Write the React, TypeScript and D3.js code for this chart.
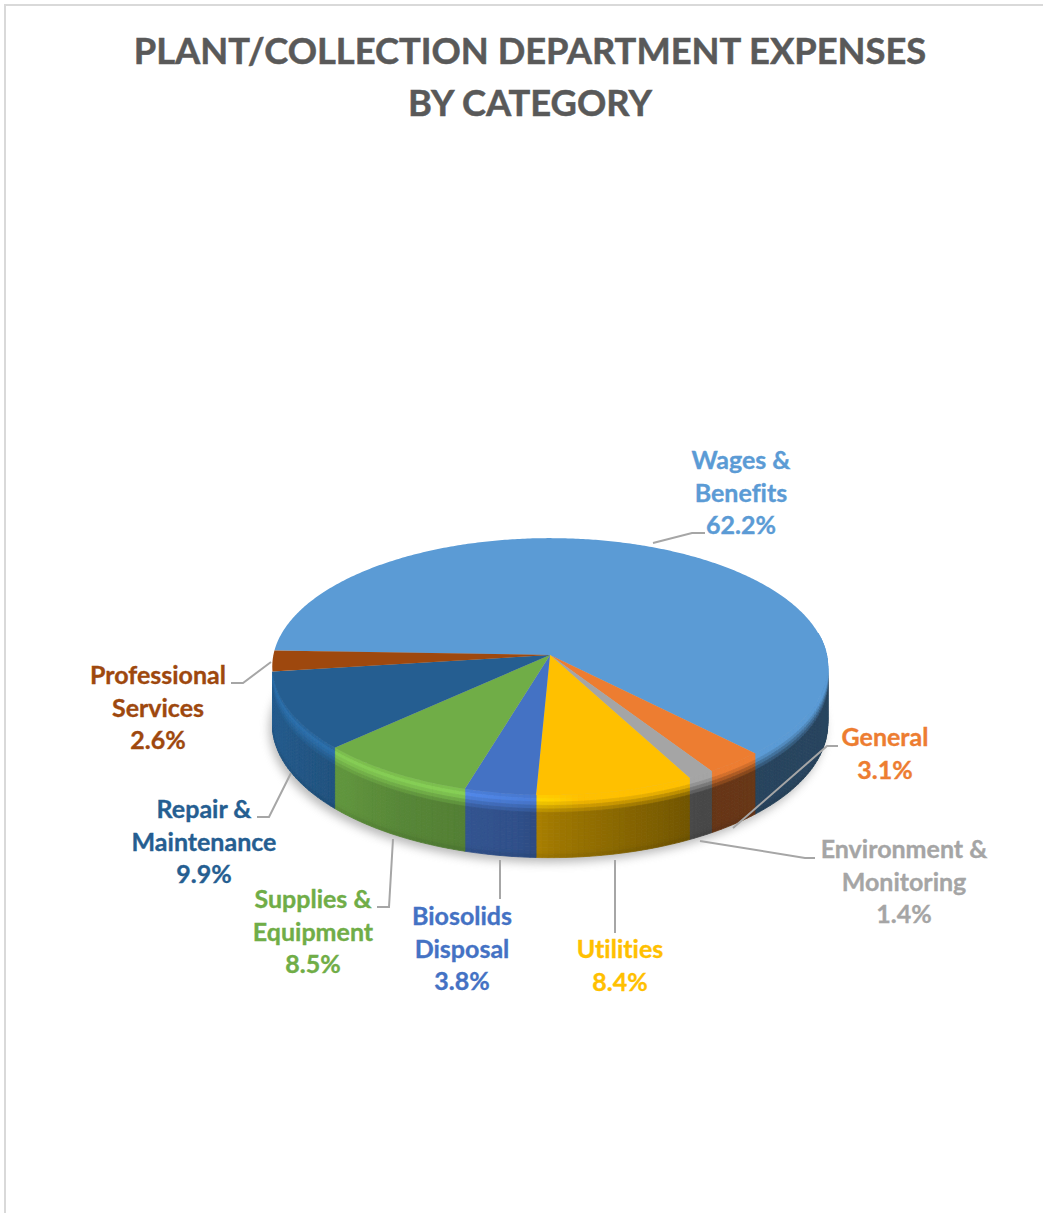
import React from "react";
import * as d3 from "d3";

// Expense shares in percent, in clockwise drawing order
const categories = [
  "Wages & Benefits",
  "General",
  "Environment & Monitoring",
  "Utilities",
  "Biosolids Disposal",
  "Supplies & Equipment",
  "Repair & Maintenance",
  "Professional Services",
];
const shares = [62.2, 3.1, 1.4, 8.4, 3.8, 8.5, 9.9, 2.6];
const sliceColors = ["#5b9bd5", "#ed7d31", "#a5a5a5", "#ffc000", "#4472c4", "#70ad47", "#255e91", "#9e480e"];
const titleLines = ["PLANT/COLLECTION DEPARTMENT EXPENSES", "BY CATEGORY"];

// Label layout: wrapped name lines, centre x and first baseline for each category
const labelLines = [
  ["Wages &", "Benefits"],
  ["General"],
  ["Environment &", "Monitoring"],
  ["Utilities"],
  ["Biosolids", "Disposal"],
  ["Supplies &", "Equipment"],
  ["Repair &", "Maintenance"],
  ["Professional", "Services"],
];
const labelX = [741, 885, 904, 620, 462, 313, 204, 158];
const labelY = [469, 746, 858, 958, 925, 908, 818, 684];
const leaderPaths = [
  [[653, 543], [692, 533], [705, 533]],
  [[733, 828], [827, 746], [838, 746]],
  [[700, 841], [805, 858], [815, 858]],
  [[615, 860], [615, 933]],
  [[500, 860], [500, 899]],
  [[393, 839], [389, 907], [377, 907]],
  [[291, 773], [269, 817], [257, 817]],
  [[271, 662], [243, 683], [231, 683]],
];

// Perspective disc: apex position, radii, foreshortening and wall depth
const cx = 550;
const cy = 655;
const radiusX = 276.6;
const radiusY = 127.4;
const tilt = 0.09;
const wallDepth = 57;
const firstAngle = (272 * Math.PI) / 180;

const project = (theta: number, depthT = 0): [number, number] => {
  const u = Math.sin(theta);
  const v = -Math.cos(theta);
  const w = 1 - tilt * v;
  return [cx + (radiusX * u) / w, cy + (radiusY * v + wallDepth * depthT) / w];
};

const arcs = d3
  .pie<number>()
  .sort(null)
  .startAngle(firstAngle)
  .endAngle(firstAngle + 2 * Math.PI)(shares);

const outline = d3.line().curve(d3.curveLinear);

const sampleAngles = (a: number, b: number, step: number) => {
  const n = Math.max(1, Math.ceil((b - a) / step));
  return d3.range(n + 1).map((i) => a + ((b - a) * i) / n);
};

const topPath = (a: number, b: number) =>
  outline([[cx, cy], ...sampleAngles(a, b, 0.01).map((t) => project(t))] as [number, number][])! + "Z";

// Side-wall brightness follows the light from the left of the disc
const wallShade = d3.scaleLinear().domain([-1, -0.5, -0.1, 0.02, 0.5, 1]).range([0.98, 0.78, 0.7, 0.62, 0.43, 0.45]).clamp(true);
const rimGlow = d3.scaleLinear().domain([-1, -0.3, 0, 0.1]).range([0.45, 0.5, 0.25, 0]).clamp(true);

const wallColor = (base: string, theta: number, t: number) => {
  const u = Math.sin(theta);
  const c = d3.rgb(base);
  const m = wallShade(u);
  const dark = d3.rgb(c.r * m, c.g * m, c.b * m);
  const glow = c.brighter(rimGlow(u)).formatHex();
  const profile = d3.scaleLinear<string>().domain([0, 0.05, 0.1, 0.3, 0.9, 1]).range([
    base,
    glow,
    glow,
    dark.formatHex(),
    dark.formatHex(),
    dark.darker(0.25).formatHex(),
  ]).clamp(true);
  return profile(t);
};

const depthSteps = d3.range(0, 1.0001, 1 / 18);
const visibleFrom = (80 * Math.PI) / 180;
const visibleTo = (262.5 * Math.PI) / 180;

// Wall quads for the part of a slice's arc that faces the viewer
const wallQuads = (a: number, b: number, color: string) => {
  const spans: [number, number][] = [];
  for (const shift of [0, 2 * Math.PI]) {
    const lo = Math.max(a, visibleFrom + shift);
    const hi = Math.min(b, visibleTo + shift);
    if (hi > lo) spans.push([lo, hi]);
  }
  const quads: { d: string; fill: string }[] = [];
  spans.forEach(([lo, hi]) => {
    const cols = sampleAngles(lo, hi, 0.02);
    cols.slice(1).forEach((end, i) => {
      const start = cols[i];
      const mid = (start + end) / 2;
      depthSteps.slice(1).forEach((t1, j) => {
        const t0 = depthSteps[j];
        quads.push({
          d: outline([project(start, t0), project(end, t0), project(end, t1), project(start, t1)])! + "Z",
          fill: wallColor(color, mid, (t0 + t1) / 2),
        });
      });
    });
  });
  return quads;
};

const shadowPath =
  outline(sampleAngles(0, 2 * Math.PI, 0.02).map((t) => {
    const [x, y] = project(t, 1);
    return [x - 3, y + 5] as [number, number];
  }))! + "Z";

const leaderLine = d3.line();
const textFace = "Lato, Carlito, Calibri, sans-serif";

export default function App() {
  return (
    <svg
      width={1043}
      height={1213}
      viewBox="0 0 1043 1213"
      style={{ position: "absolute", left: 0, top: 0, display: "block", background: "#fff", fontVariantLigatures: "none" }}
    >
      <defs>
        <filter id="dropShadow" x="-10%" y="-20%" width="120%" height="140%">
          <feGaussianBlur stdDeviation="5" />
        </filter>
        <filter id="wallSoften" x="-2%" y="-2%" width="104%" height="104%">
          <feGaussianBlur stdDeviation="0.7" />
        </filter>
      </defs>
      <path d="M5 1213V5H1043" fill="none" stroke="#d9d9d9" strokeWidth={2} />
      <g fontFamily={textFace} fontWeight={700} textAnchor="middle">
        {titleLines.map((line, i) => (
          <text key={line} x={530} y={64 + i * 52} fontSize={36.3} fill="#595959" stroke="#595959" strokeWidth={0.5}>
            {line}
          </text>
        ))}
      </g>
      <path d={shadowPath} fill="#8c8c8c" opacity={0.6} filter="url(#dropShadow)" />
      <g filter="url(#wallSoften)">
        {arcs.map((arc, i) =>
          wallQuads(arc.startAngle, arc.endAngle, sliceColors[i]).map((q, j) => (
            <path key={`${i}-${j}`} d={q.d} fill={q.fill} stroke={q.fill} strokeWidth={0.8} />
          ))
        )}
      </g>
      <g>
        {arcs.map((arc, i) => (
          <path key={categories[i]} d={topPath(arc.startAngle, arc.endAngle)} fill={sliceColors[i]} />
        ))}
      </g>
      <g fill="none" stroke="#a6a6a6" strokeWidth={2}>
        {leaderPaths.map((pts, i) => (
          <path key={i} d={leaderLine(pts as [number, number][])!} />
        ))}
      </g>
      <g fontFamily={textFace} fontWeight={700} textAnchor="middle" fontSize={25}>
        {categories.map((name, i) => {
          const lines = [...labelLines[i], `${shares[i].toFixed(1)}%`];
          return (
            <text key={name} fill={sliceColors[i]} stroke={sliceColors[i]} strokeWidth={0.35}>
              {lines.map((line, j) => (
                <tspan key={j} x={labelX[i]} y={labelY[i] + j * 32.5}>
                  {line}
                </tspan>
              ))}
            </text>
          );
        })}
      </g>
    </svg>
  );
}
